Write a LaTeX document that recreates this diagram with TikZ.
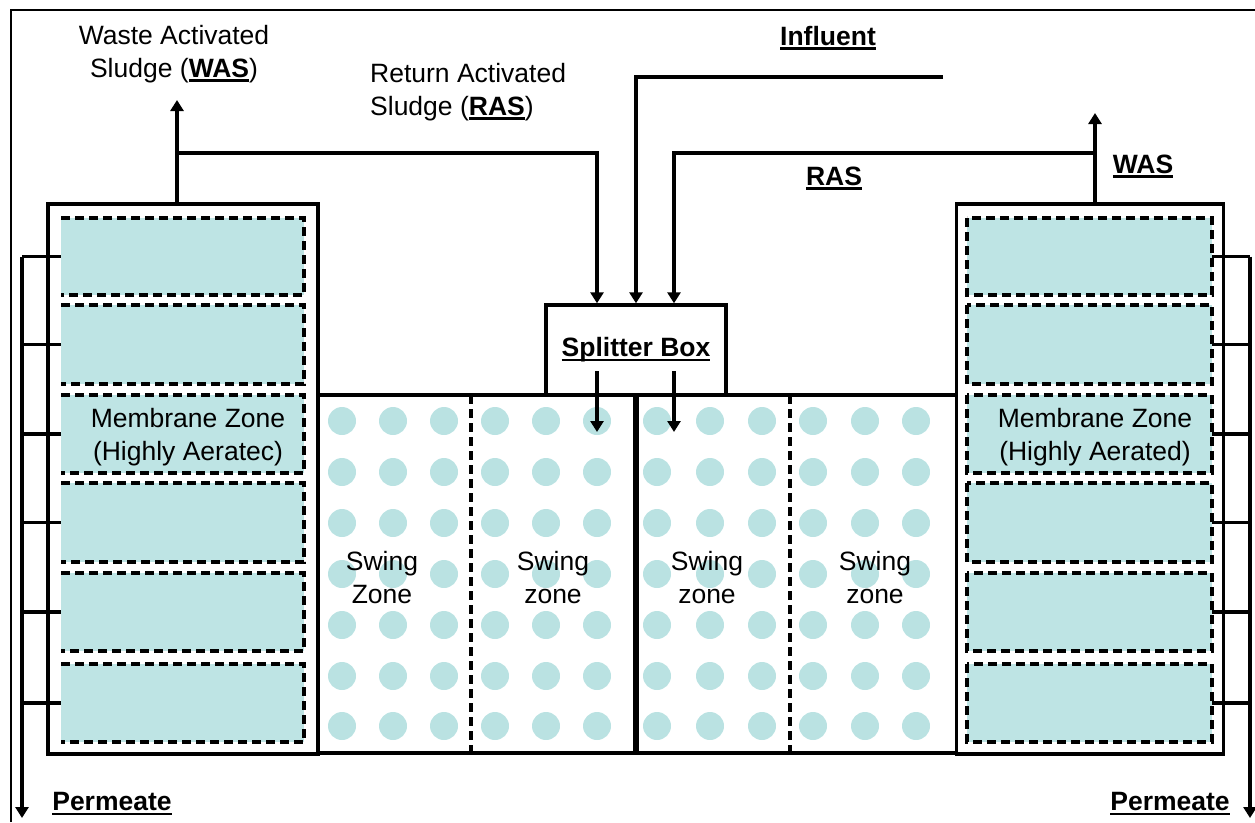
\documentclass[tikz,border=0pt]{standalone}
\usepackage{fontspec}
\setmainfont{Liberation Sans}
\usetikzlibrary{arrows.meta}
\definecolor{memfill}{RGB}{190,228,228}
\definecolor{dotfill}{RGB}{186,226,226}
\newcommand\myul[1]{\leavevmode\setbox0\hbox{#1}\rlap{\rule[-4.5pt]{\wd0}{2.8pt}}\box0}
\newcommand\bu[1]{\myul{\textbf{#1}}}
\tikzset{
  lbl/.style={font=\fontsize{26.5}{33}\selectfont, inner sep=0pt, align=center},
  thk/.style={line width=3.4pt},
  arr/.style={line width=3.4pt, -{Triangle[length=11pt,width=13pt]}},
  tank/.style={draw, line width=3.4pt, minimum width=270pt, minimum height=550pt, inner sep=0pt},
  memrect/.style={fill=memfill},
  dsh/.style={line width=3.4pt, dash pattern=on 9pt off 5pt},
  dot/.style={fill=dotfill, draw=none},
}
\begin{document}
\begin{tikzpicture}[x=1pt,y=-1pt]
\useasboundingbox (0,0) rectangle (1255,822);
% frame
\draw[line width=2.5pt] (11,822) -- (11,10) -- (1255,10);
% tanks
\node[tank] (ltank) at (183,479) {};
\node[tank, minimum width=267pt] (rtank) at (1090,479) {};
% membrane rectangles
\foreach \a/\b [count=\i] in {218/295,305/384,395/473,483/562,573/651,664/742}{
  \fill[memfill] (61,\a) rectangle (304,\b);
  \draw[dsh] (61,\a) -- (304,\a) -- (304,\b) -- (61,\b);
  \fill[memfill] (967,\a) rectangle (1212,\b);
  \draw[dsh] (967,\a) rectangle (1212,\b);
  \coordinate (lm\i) at (61,{(\a+\b)/2});
  \coordinate (rm\i) at (1212,{(\a+\b)/2});
}
% swing zones
\draw[thk] (318,395) -- (957,395);
\draw[thk] (318,753) -- (957,753);
\draw[dsh] (471,395) -- (471,753);
\draw[dsh] (790,395) -- (790,753);
\draw[line width=5.5pt] (636,395) -- (636,753);
\foreach \y in {421,472,523,574,625,676,726}{
  \foreach \x in {342,393,444,495,546,597,657,710,762,813,865,916}{
    \fill[dot] (\x,\y) circle (14pt);
  }
}
% splitter box
\node[draw, fill=white, line width=3.4pt, minimum width=180pt, minimum height=90pt, inner sep=0pt, lbl] (split) at (636,350) {\bu{Splitter Box}};
% labels
\node[lbl] (wasl) at (174,54) {Waste Activated\\Sludge (\bu{WAS})};
\node[lbl, anchor=west, align=left] (rasl) at (370,92) {Return Activated\\Sludge (\bu{RAS})};
\node[lbl] (infl) at (828,38) {\bu{Influent}};
\node[lbl] (rasr) at (834,178) {\bu{RAS}};
\node[lbl] (wasr) at (1143,166) {\bu{WAS}};
\node[lbl] (meml) at (188,437) {Membrane Zone\\(Highly Aeratec)};
\node[lbl] (memr) at (1095,437) {Membrane Zone\\(Highly Aerated)};
\node[lbl] (sw1) at (382,578) {Swing\\Zone};
\node[lbl] (sw2) at (553,578) {Swing\\zone};
\node[lbl] (sw3) at (707,578) {Swing\\zone};
\node[lbl] (sw4) at (875,578) {Swing\\zone};
\node[lbl] (perl) at (112,804) {\bu{Permeate}};
\node[lbl] (perr) at (1170,804) {\bu{Permeate}};
% connectors
\coordinate (wasLtip) at (177,100);
\coordinate (rasLj) at (177,153);
\coordinate (wasRtip) at (1095,113);
\coordinate (rasRj) at (1095,153);
\coordinate (infS) at (943,77);
\draw[arr] (wasLtip |- ltank.north) -- (wasLtip);
\draw[arr] (wasRtip |- rtank.north) -- (wasRtip);
\draw[arr] (rasLj) -| ([xshift=-39pt]split.north);
\draw[arr] (infS) -| (split.north);
\draw[arr] (rasRj) -| ([xshift=38pt]split.north);
\coordinate (o1) at (597,371);
\coordinate (o2) at (674,371);
\draw[arr] (o1) -- ++(0,61);
\draw[arr] (o2) -- ++(0,61);
% permeate collectors
\coordinate (lcol) at (22,818);
\coordinate (rcol) at (1250,818);
\draw[arr] (lm1 -| lcol) -- (lcol);
\draw[arr] (rm1 -| rcol) -- (rcol);
\foreach \i in {1,...,6}{
  \draw[thk] (lm\i -| lcol) -- (lm\i);
  \draw[thk] (rm\i) -- (rm\i -| rcol);
}
\end{tikzpicture}
\end{document}
